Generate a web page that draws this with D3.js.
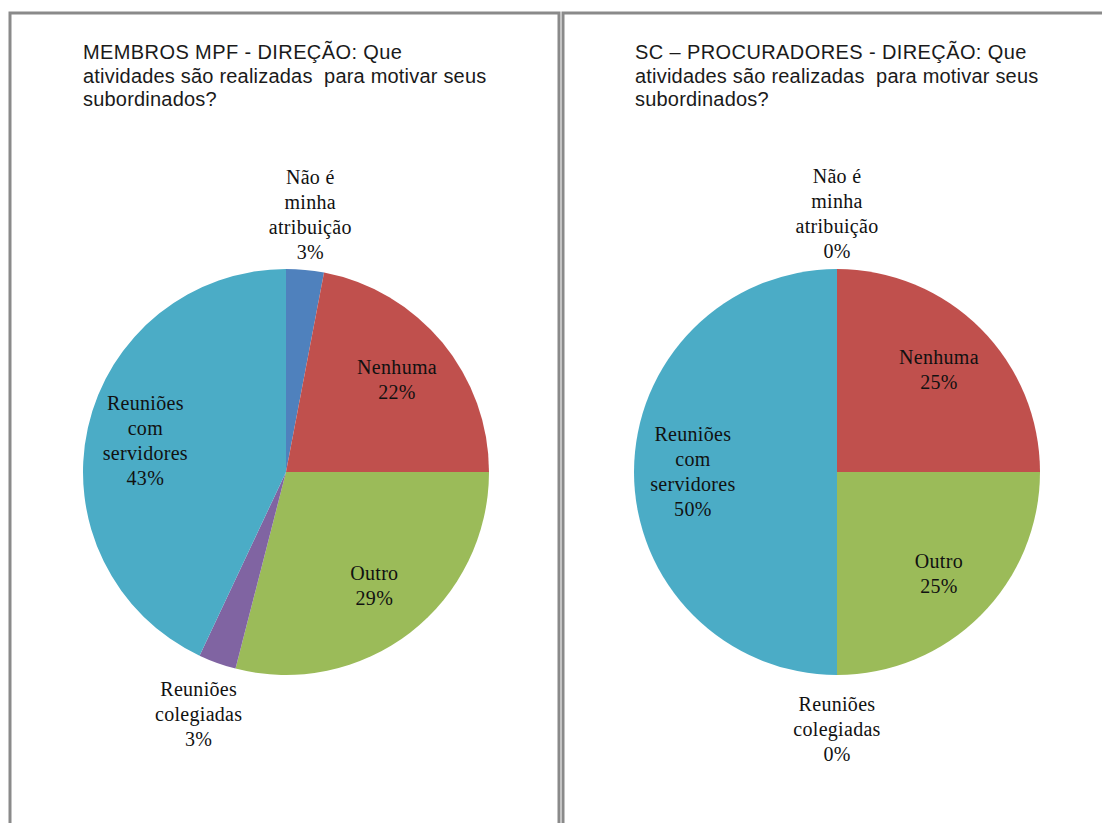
<!DOCTYPE html>
<html>
<head>
<meta charset="utf-8">
<script src="https://cdn.jsdelivr.net/npm/d3@7"></script>
<style>
  html, body { margin: 0; padding: 0; background: #fff; }
  svg { display: block; }
</style>
</head>
<body>
<svg id="chart" width="1102" height="823"></svg>
<script>
// Categories, in clockwise order starting at 12 o'clock
const categories = [
  ["Não é", "minha", "atribuição"],
  ["Nenhuma"],
  ["Outro"],
  ["Reuniões", "colegiadas"],
  ["Reuniões", "com", "servidores"]
];
const categoryKeys = ["nao", "nenhuma", "outro", "colegiadas", "servidores"];

// Percentages per panel
const membrosValues = [3, 22, 29, 3, 43];
const procuradoresValues = [0, 25, 25, 0, 50];

// Panel titles
const membrosTitle = ["MEMBROS MPF - DIREÇÃO: Que", "atividades são realizadas  para motivar seus", "subordinados?"];
const procuradoresTitle = ["SC – PROCURADORES - DIREÇÃO: Que", "atividades são realizadas  para motivar seus", "subordinados?"];

const sliceColors = ["#4F81BD", "#C0504D", "#9BBB59", "#8064A2", "#4BACC6"];

const svg = d3.select("#chart");
const color = d3.scaleOrdinal().domain(categoryKeys).range(sliceColors);
const pct = d3.format(".0%");

// Small slices get their label outside the pie, others inside
const insideFactor = 0.71, outsideFactor = 1.27;

function drawPanel(opts) {
  const g = svg.append("g");

  // panel frame (open where it runs off the page)
  g.append("path")
    .attr("d", opts.frame)
    .attr("fill", "none")
    .attr("stroke", "#8a8a8a")
    .attr("stroke-width", 3);

  // title
  const title = g.append("text")
    .attr("x", opts.titleX)
    .attr("y", 59)
    .attr("font-family", "'Liberation Sans', Arial, sans-serif")
    .attr("font-size", 20)
    .attr("fill", "#1a1a1a");
  opts.title.forEach((line, i) => {
    title.append("tspan")
      .attr("x", opts.titleX)
      .attr("dy", i === 0 ? 0 : 23.5)
      .attr("letter-spacing", i === 0 ? 0.4 : 0.2)
      .attr("xml:space", "preserve")
      .text(line);
  });

  const radius = 203;
  const pie = d3.pie().sort(null).value(d => d.value);
  const arc = d3.arc().innerRadius(0).outerRadius(radius);

  const data = categoryKeys.map((k, i) => ({ key: k, lines: categories[i], value: opts.values[i] }));
  const arcs = pie(data);

  const pg = g.append("g").attr("transform", `translate(${opts.cx},${opts.cy})`);

  pg.selectAll("path.slice")
    .data(arcs)
    .join("path")
    .attr("class", "slice")
    .attr("d", arc)
    .attr("fill", d => color(d.data.key));

  // data labels: category name lines + percentage
  const lineH = 25;
  arcs.forEach(a => {
    const mid = (a.startAngle + a.endAngle) / 2;
    const small = a.data.value / 100 < 0.05;
    const r = radius * (small ? outsideFactor : insideFactor);
    const x = Math.sin(mid) * r;
    const y = -Math.cos(mid) * r;
    const lines = a.data.lines.concat([pct(a.data.value / 100)]);
    const top = y - (lines.length - 1) * lineH / 2;
    const t = pg.append("text")
      .attr("text-anchor", "middle")
      .attr("font-family", "'Liberation Serif', 'Times New Roman', serif")
      .attr("font-size", 20)
      .attr("letter-spacing", 0.3)
      .attr("fill", "#111");
    lines.forEach((ln, i) => {
      t.append("tspan")
        .attr("x", x)
        .attr("y", top + i * lineH)
        .attr("dy", "0.33em")
        .text(ln);
    });
  });
}

drawPanel({
  frame: "M10,823 V13 H559 V823",
  titleX: 83,
  title: membrosTitle,
  values: membrosValues,
  cx: 286, cy: 472
});

drawPanel({
  frame: "M563,823 V13 H1110",
  titleX: 635,
  title: procuradoresTitle,
  values: procuradoresValues,
  cx: 837, cy: 472
});
</script>
</body>
</html>
